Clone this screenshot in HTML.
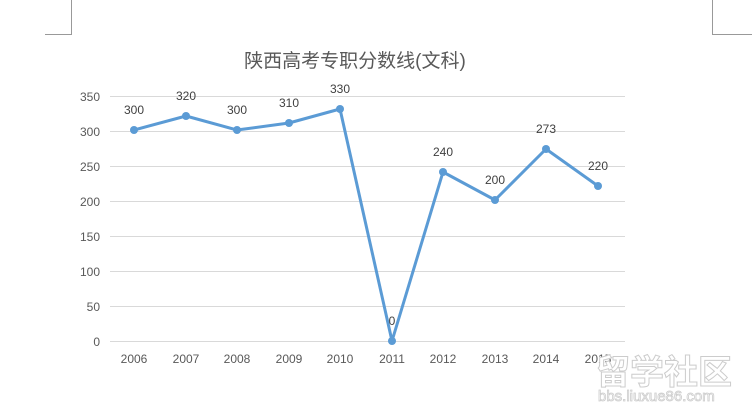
<!DOCTYPE html>
<html><head><meta charset="utf-8"><style>html,body{margin:0;padding:0;background:#fff}svg{display:block}</style></head>
<body>
<svg width="752" height="408" xmlns="http://www.w3.org/2000/svg" font-family="'Liberation Sans','Noto Sans CJK SC',sans-serif">
<rect width="752" height="408" fill="#fff"/>
<path d="M71.5 0V34.5H45" fill="none" stroke="#999" stroke-width="1"/>
<path d="M712.5 0V34.5H752" fill="none" stroke="#999" stroke-width="1"/>
<text x="355" y="67" font-size="19" fill="#595959" text-anchor="middle">陕西高考专职分数线(文科)</text>
<g stroke="#d9d9d9" stroke-width="1">
<line x1="110" x2="625" y1="96.5" y2="96.5"/>
<line x1="110" x2="625" y1="131.5" y2="131.5"/>
<line x1="110" x2="625" y1="166.5" y2="166.5"/>
<line x1="110" x2="625" y1="201.5" y2="201.5"/>
<line x1="110" x2="625" y1="236.5" y2="236.5"/>
<line x1="110" x2="625" y1="271.5" y2="271.5"/>
<line x1="110" x2="625" y1="306.5" y2="306.5"/>
<line x1="110" x2="625" y1="341.5" y2="341.5"/>
</g>
<g font-size="12" fill="#595959" text-anchor="end">
<text x="100" y="101">350</text><text x="100" y="136">300</text><text x="100" y="171">250</text>
<text x="100" y="206">200</text><text x="100" y="241">150</text><text x="100" y="276">100</text>
<text x="100" y="311">50</text><text x="100" y="346">0</text>
</g>
<g font-size="12" fill="#595959" text-anchor="middle">
<text x="134" y="363">2006</text><text x="186" y="363">2007</text><text x="237" y="363">2008</text>
<text x="289" y="363">2009</text><text x="340" y="363">2010</text><text x="392" y="363">2011</text>
<text x="443" y="363">2012</text><text x="495" y="363">2013</text><text x="546" y="363">2014</text>
<text x="598" y="363">2015</text>
</g>
<polyline points="134,130 186,116 237,130 289,123 340,109 392,341 443,172 495,200 546,149 598,186" fill="none" stroke="#5b9bd5" stroke-width="3" stroke-linejoin="round"/>
<g fill="#5b9bd5">
<circle cx="134" cy="130" r="4"/><circle cx="186" cy="116" r="4"/><circle cx="237" cy="130" r="4"/>
<circle cx="289" cy="123" r="4"/><circle cx="340" cy="109" r="4"/><circle cx="392" cy="341" r="4"/>
<circle cx="443" cy="172" r="4"/><circle cx="495" cy="200" r="4"/><circle cx="546" cy="149" r="4"/>
<circle cx="598" cy="186" r="4"/>
</g>
<g font-size="12" fill="#404040" text-anchor="middle">
<text x="134" y="114">300</text><text x="186" y="100">320</text><text x="237" y="114">300</text>
<text x="289" y="107">310</text><text x="340" y="93">330</text><text x="392" y="325">0</text>
<text x="443" y="156">240</text><text x="495" y="184">200</text><text x="546" y="133">273</text>
<text x="598" y="170">220</text>
</g>
<g fill="#fff" stroke="#ccc" stroke-width="1">
<text x="596" y="384" font-size="34" font-weight="bold">留学社区</text>
</g>
<text x="598" y="401" font-size="15" fill="#fff" stroke="#ccc" stroke-width="0.8">bbs.liuxue86.com</text>
</svg>
</body></html>
